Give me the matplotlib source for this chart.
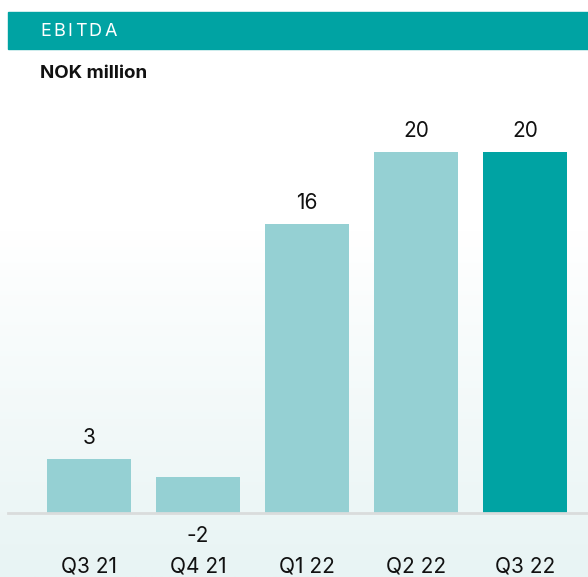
import numpy as np
import matplotlib.pyplot as plt
from matplotlib.colors import LinearSegmentedColormap

# данные
quarters = ['Q3 21', 'Q4 21', 'Q1 22', 'Q2 22', 'Q3 22']
ebitda = [3, -2, 16, 20, 20]
title = 'EBITDA'
unit = 'NOK million'

TEAL = '#00a3a3'
LIGHT = '#95d0d3'
W, H = 588, 577

plt.rcParams['font.family'] = ['Inter', 'DejaVu Sans']

fig = plt.figure(figsize=(W / 100, H / 100), dpi=100)

# фон с градиентом
bg = fig.add_axes([0, 0, 1, 1])
grad = np.linspace(0, 1, 256).reshape(-1, 1)
grad = np.clip((grad - 0.4) / 0.6, 0, 1)
cmap = LinearSegmentedColormap.from_list('bg', ['#ffffff', '#e8f4f4'])
bg.imshow(grad, aspect='auto', cmap=cmap, extent=[0, 1, 1, 0], origin='upper')
bg.set_xlim(0, 1)
bg.set_ylim(1, 0)
bg.axis('off')

# шапка
bg.add_patch(plt.Rectangle((8 / W, 12 / H), 1, 37 / H, color=TEAL, zorder=2))
x = 40
for ch in title:
    t = bg.text(x / W, 31 / H, ch, color='white', fontsize=13, fontweight='normal',
                va='center', ha='left', zorder=3)
    fig.canvas.draw()
    bb = t.get_window_extent()
    x += bb.width + 2.4
bg.text(40 / W, 73 / H, unit, fontsize=13.5, fontweight='bold', va='center',
        ha='left', color='#111111', zorder=3)

# столбцы
base_y = 513
top_y = 152
ax = fig.add_axes([8 / W, (H - base_y) / H, 1 - 8 / W, (base_y - top_y) / H])
ax.patch.set_alpha(0)
pos = np.arange(len(quarters))
colors = [LIGHT] * (len(quarters) - 1) + [TEAL]
heights = np.abs(ebitda)
ax.bar(pos, heights, width=0.77, color=colors, zorder=2)
ax.set_xlim(-0.743, 4.578)
ax.set_ylim(0, 20)
ax.axhline(0, color='#d9dcdc', lw=2, zorder=3, clip_on=False)

for p, v, h in zip(pos, ebitda, heights):
    if v >= 0:
        ax.annotate(str(v), (p, h), xytext=(0, 8), textcoords='offset points',
                    ha='center', va='bottom', fontsize=15, color='#111111')
    else:
        ax.annotate(str(v), (p, 0), xytext=(0, -9), textcoords='offset points',
                    ha='center', va='top', fontsize=15, color='#111111')

ax.set_xticks(pos)
ax.set_xticklabels(quarters, fontsize=15, color='#111111')
ax.tick_params(axis='x', length=0, pad=31)
ax.set_yticks([])
for s in ax.spines.values():
    s.set_visible(False)

fig.savefig('out.png', dpi=100)
